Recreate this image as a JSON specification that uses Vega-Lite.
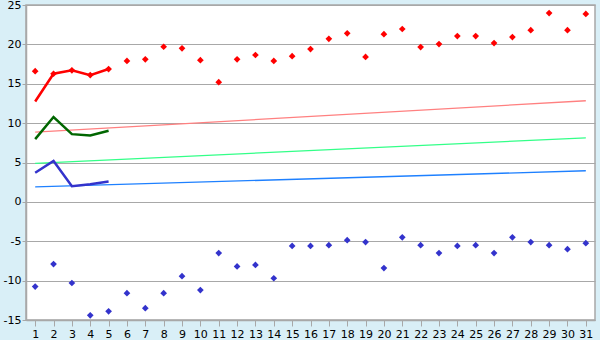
{
  "$schema": "https://vega.github.io/schema/vega-lite/v6.json",
  "width": 569,
  "height": 315,
  "autosize": {"type": "none"},
  "padding": {"left": 26, "top": 5, "right": 5, "bottom": 20},
  "background": "#D9EFF7",
  "config": {
    "view": {"fill": "white", "stroke": "#A8A8A8", "strokeWidth": 1.5},
    "axis": {"labelFont": "DejaVu Sans", "labelFontSize": 11, "labelColor": "#000000", "domainColor": "#A8A8A8", "tickColor": "#A8A8A8", "gridColor": "#A8A8A8", "gridOpacity": 1, "domainWidth": 1.5, "title": null}
  },
  "datasets": {
    "trend": [
      {"d": 1, "s": "tR", "v": 8.86}, {"d": 31, "s": "tR", "v": 12.84},
      {"d": 1, "s": "tG", "v": 4.9}, {"d": 31, "s": "tG", "v": 8.13},
      {"d": 1, "s": "tB", "v": 1.9}, {"d": 31, "s": "tB", "v": 3.95}
    ],
    "lines": [
      {"d": 1, "s": "lR", "v": 12.75}, {"d": 2, "s": "lR", "v": 16.27}, {"d": 3, "s": "lR", "v": 16.7}, {"d": 4, "s": "lR", "v": 16.1}, {"d": 5, "s": "lR", "v": 16.87},
      {"d": 1, "s": "lG", "v": 7.97}, {"d": 2, "s": "lG", "v": 10.77}, {"d": 3, "s": "lG", "v": 8.6}, {"d": 4, "s": "lG", "v": 8.43}, {"d": 5, "s": "lG", "v": 9.03},
      {"d": 1, "s": "lB", "v": 3.7}, {"d": 2, "s": "lB", "v": 5.2}, {"d": 3, "s": "lB", "v": 2.0}, {"d": 4, "s": "lB", "v": 2.25}, {"d": 5, "s": "lB", "v": 2.6}
    ],
    "pts": [
      {"d": 1, "s": "max", "v": 16.6}, {"d": 2, "s": "max", "v": 16.27}, {"d": 3, "s": "max", "v": 16.7}, {"d": 4, "s": "max", "v": 16.1}, {"d": 5, "s": "max", "v": 16.87},
      {"d": 6, "s": "max", "v": 17.9}, {"d": 7, "s": "max", "v": 18.1}, {"d": 8, "s": "max", "v": 19.7}, {"d": 9, "s": "max", "v": 19.5}, {"d": 10, "s": "max", "v": 18.0},
      {"d": 11, "s": "max", "v": 15.2}, {"d": 12, "s": "max", "v": 18.1}, {"d": 13, "s": "max", "v": 18.65}, {"d": 14, "s": "max", "v": 17.9}, {"d": 15, "s": "max", "v": 18.5},
      {"d": 16, "s": "max", "v": 19.4}, {"d": 17, "s": "max", "v": 20.7}, {"d": 18, "s": "max", "v": 21.4}, {"d": 19, "s": "max", "v": 18.4}, {"d": 20, "s": "max", "v": 21.3},
      {"d": 21, "s": "max", "v": 21.95}, {"d": 22, "s": "max", "v": 19.66}, {"d": 23, "s": "max", "v": 20.04}, {"d": 24, "s": "max", "v": 21.06}, {"d": 25, "s": "max", "v": 21.06},
      {"d": 26, "s": "max", "v": 20.17}, {"d": 27, "s": "max", "v": 20.93}, {"d": 28, "s": "max", "v": 21.8}, {"d": 29, "s": "max", "v": 23.98}, {"d": 30, "s": "max", "v": 21.8},
      {"d": 31, "s": "max", "v": 23.86},
      {"d": 1, "s": "min", "v": -10.75}, {"d": 2, "s": "min", "v": -7.9}, {"d": 3, "s": "min", "v": -10.3}, {"d": 4, "s": "min", "v": -14.4}, {"d": 5, "s": "min", "v": -13.9},
      {"d": 6, "s": "min", "v": -11.6}, {"d": 7, "s": "min", "v": -13.5}, {"d": 8, "s": "min", "v": -11.6}, {"d": 9, "s": "min", "v": -9.43}, {"d": 10, "s": "min", "v": -11.2},
      {"d": 11, "s": "min", "v": -6.5}, {"d": 12, "s": "min", "v": -8.2}, {"d": 13, "s": "min", "v": -8.0}, {"d": 14, "s": "min", "v": -9.7}, {"d": 15, "s": "min", "v": -5.6},
      {"d": 16, "s": "min", "v": -5.6}, {"d": 17, "s": "min", "v": -5.5}, {"d": 18, "s": "min", "v": -4.86}, {"d": 19, "s": "min", "v": -5.1}, {"d": 20, "s": "min", "v": -8.4},
      {"d": 21, "s": "min", "v": -4.5}, {"d": 22, "s": "min", "v": -5.5}, {"d": 23, "s": "min", "v": -6.5}, {"d": 24, "s": "min", "v": -5.6}, {"d": 25, "s": "min", "v": -5.5},
      {"d": 26, "s": "min", "v": -6.5}, {"d": 27, "s": "min", "v": -4.5}, {"d": 28, "s": "min", "v": -5.1}, {"d": 29, "s": "min", "v": -5.5}, {"d": 30, "s": "min", "v": -6.0},
      {"d": 31, "s": "min", "v": -5.25}
    ]
  },
  "encoding": {
    "x": {
      "field": "d", "type": "ordinal",
      "scale": {"type": "point", "padding": 0.5, "domain": [1,2,3,4,5,6,7,8,9,10,11,12,13,14,15,16,17,18,19,20,21,22,23,24,25,26,27,28,29,30,31]},
      "axis": {"labelAngle": 0, "tickSize": 6, "labelPadding": 2, "grid": false, "domain": true}
    },
    "y": {
      "field": "v", "type": "quantitative",
      "scale": {"domain": [-15, 25], "nice": false},
      "axis": {"values": [-15, -10, -5, 0, 5, 10, 15, 20, 25], "grid": true, "tickSize": 4, "labelPadding": 1, "labelExpr": "datum.value", "gridWidth": 1.2}
    },
    "color": {
      "field": "s", "type": "nominal", "legend": null,
      "scale": {
        "domain": ["tR", "tG", "tB", "lR", "lG", "lB", "max", "min"],
        "range": ["#FF8080", "#33FF88", "#1E80FF", "#FF0000", "#006600", "#3333CC", "#FF0000", "#3333CC"]
      }
    }
  },
  "layer": [
    {"data": {"name": "trend"}, "mark": {"type": "line", "strokeWidth": 1.3}, "encoding": {"detail": {"field": "s"}}},
    {"data": {"name": "lines"}, "mark": {"type": "line", "strokeWidth": 2.5}, "encoding": {"detail": {"field": "s"}}},
    {"data": {"name": "pts"}, "mark": {"type": "point", "shape": "diamond", "filled": true, "size": 45, "opacity": 1}}
  ]
}
